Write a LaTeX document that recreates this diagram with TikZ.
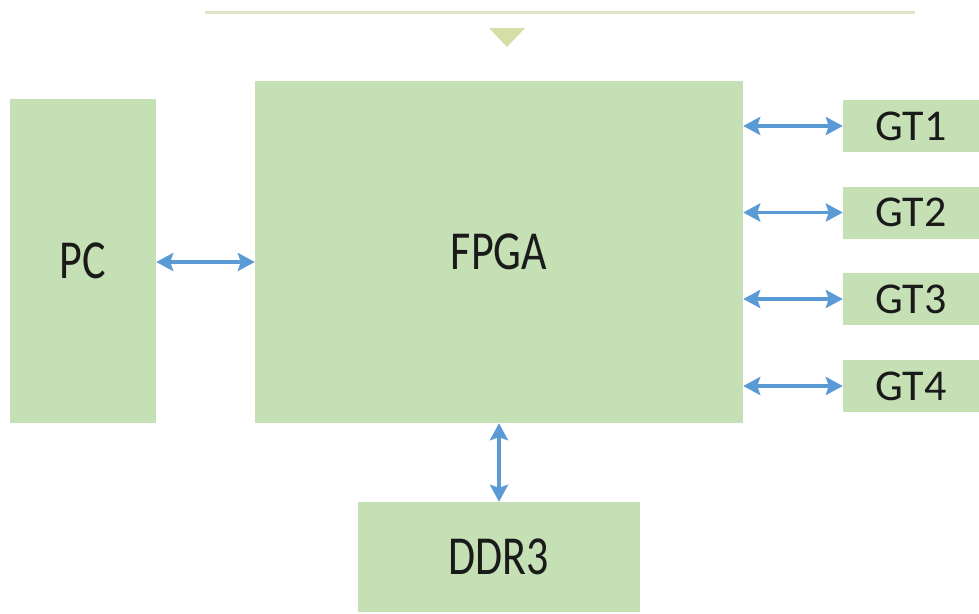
\documentclass[tikz,border=0pt]{standalone}
\usepackage{fontspec}
\setmainfont{Carlito}
\usetikzlibrary{arrows.meta}
\definecolor{boxgreen}{HTML}{C5E0B4}
\definecolor{arrowblue}{HTML}{5B9BD5}
\definecolor{topline}{HTML}{E1E4C6}
\definecolor{tri}{HTML}{D4DEA6}
\definecolor{txt}{HTML}{1A1A1A}
\newcommand{\tall}[1]{\scalebox{1}[1.25]{#1}}
\begin{document}
\begin{tikzpicture}[x=1pt,y=-1pt,
  blk/.style={fill=boxgreen,draw=none,inner sep=0pt,text=txt,font=\fontsize{44}{48}\selectfont},
  link/.style={draw=arrowblue,line width=3.5pt,{Stealth[length=17pt,width=18pt,inset=3pt]}-{Stealth[length=17pt,width=18pt,inset=3pt]}}]
\useasboundingbox (0,0) rectangle (979,613);
% top line and triangle
\coordinate (la) at (205,12);
\coordinate (lb) at (915,12);
\draw[topline,line width=3pt] (la) -- (lb);
\fill[tri] (489,28) -- (525,28) -- (507,47) -- cycle;
% blocks
\node[blk,minimum width=146pt,minimum height=324pt] (pc) at (83,261) {\tall{PC}};
\node[blk,minimum width=488pt,minimum height=342pt] (fpga) at (499,252) {\tall{FPGA}};
\node[blk,minimum width=282pt,minimum height=110pt] (ddr) at (499,557) {\tall{DDR3}};
\node[blk,minimum width=136pt,minimum height=52pt] (gt1) at (911,126) {GT1};
\node[blk,minimum width=136pt,minimum height=52pt] (gt2) at (911,212.5) {GT2};
\node[blk,minimum width=136pt,minimum height=52pt] (gt3) at (911,299) {GT3};
\node[blk,minimum width=136pt,minimum height=52pt] (gt4) at (911,386) {GT4};
% connectors
\draw[link] (pc.east |- 0,262) -- (fpga.west |- 0,262);
\draw[link] (fpga.south) -- (ddr.north);
\draw[link] (fpga.east |- gt1) -- (gt1.west);
\draw[link] (fpga.east |- gt2) -- (gt2.west);
\draw[link] (fpga.east |- gt3) -- (gt3.west);
\draw[link] (fpga.east |- gt4) -- (gt4.west);
\end{tikzpicture}
\end{document}
